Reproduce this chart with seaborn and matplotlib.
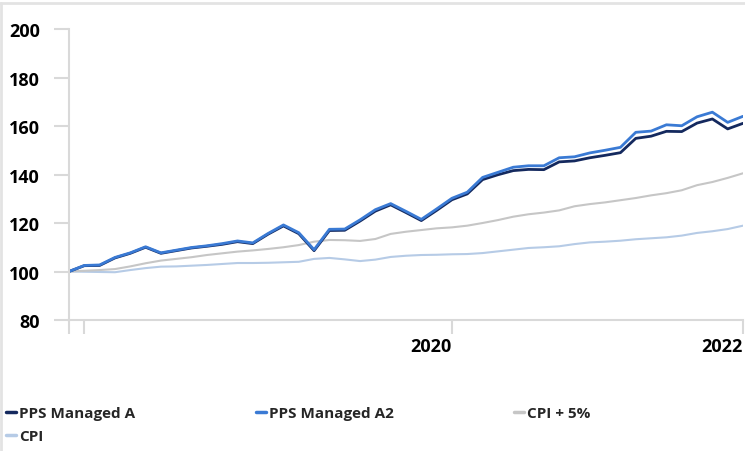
import numpy as np
import pandas as pd
import matplotlib.pyplot as plt
import matplotlib.lines as mlines
import seaborn as sns

# Wartości indeksu (start = 100)
pps_a = [100.0, 102.4, 102.5, 105.6, 107.5, 110.0, 107.5, 108.6, 109.7, 110.4,
         111.2, 112.3, 111.5, 115.4, 118.8, 115.6, 108.6, 116.9, 117.0, 120.8,
         124.9, 127.5, 124.3, 121.0, 125.2, 129.6, 132.0, 137.9, 139.9, 141.6,
         142.1, 142.0, 145.2, 145.6, 146.9, 147.9, 149.0, 154.9, 155.8, 157.8,
         157.7, 161.2, 162.9, 158.8, 161.1]
pps_a2 = [100.0, 102.5, 102.7, 105.8, 107.7, 110.2, 107.7, 108.8, 109.9, 110.6,
          111.5, 112.6, 111.8, 115.7, 119.2, 116.0, 109.0, 117.4, 117.5, 121.3,
          125.5, 128.0, 124.8, 121.5, 125.8, 130.2, 132.7, 138.8, 140.9, 143.0,
          143.6, 143.6, 146.9, 147.3, 148.9, 150.0, 151.2, 157.4, 157.9, 160.5,
          160.1, 163.8, 165.7, 161.5, 164.0]
cpi_5 = [100.0, 100.3, 100.6, 101.0, 102.1, 103.4, 104.5, 105.2, 105.9, 106.8,
         107.5, 108.2, 108.7, 109.3, 110.0, 110.9, 112.3, 113.0, 112.9, 112.6,
         113.4, 115.5, 116.4, 117.1, 117.8, 118.2, 118.9, 120.0, 121.2, 122.6,
         123.6, 124.3, 125.2, 126.9, 127.8, 128.5, 129.4, 130.3, 131.4, 132.3,
         133.5, 135.6, 136.9, 138.6, 140.5]
cpi = [100.0, 99.9, 99.8, 99.7, 100.6, 101.4, 102.0, 102.1, 102.4, 102.7,
       103.1, 103.5, 103.5, 103.6, 103.8, 104.0, 105.2, 105.6, 105.0, 104.3,
       104.9, 106.0, 106.5, 106.8, 106.9, 107.1, 107.2, 107.6, 108.3, 109.0,
       109.7, 110.0, 110.4, 111.3, 112.0, 112.3, 112.7, 113.3, 113.7, 114.1,
       114.8, 115.9, 116.6, 117.5, 118.9]

series_names = ["PPS Managed A", "PPS Managed A2", "CPI + 5%", "CPI"]
tick_positions = [0, 1, 25, 44]
tick_labels = ["", "", "2020", "2022"]

colors = {"PPS Managed A": "#14295e", "PPS Managed A2": "#3a7ad4",
          "CPI + 5%": "#c6c6c6", "CPI": "#b6cbe6"}
widths = {"PPS Managed A": 2.0, "PPS Managed A2": 2.0, "CPI + 5%": 1.5, "CPI": 1.5}

df = pd.DataFrame({"PPS Managed A": pps_a, "PPS Managed A2": pps_a2,
                   "CPI + 5%": cpi_5, "CPI": cpi})
df["okres"] = np.arange(len(df))

sns.set_style("white")
plt.rcParams['font.family'] = ['Open Sans', 'DejaVu Sans']
plt.rcParams['font.weight'] = 'bold'

fig = plt.figure(figsize=(7.45, 4.52), dpi=100)
ax = fig.add_axes([69 / 745, 1 - 321 / 452, 674 / 745, 291 / 452])

# Kolejność rysowania: szare linie pod niebieskimi
for name in ["CPI", "CPI + 5%", "PPS Managed A", "PPS Managed A2"]:
    sns.lineplot(x="okres", y=name, data=df, ax=ax, color=colors[name],
                 linewidth=widths[name], label=name, legend=False)

ax.set_xlim(0, 44)
ax.set_ylim(80, 200)
ax.set_yticks(range(80, 201, 20))
ax.set_xticks(tick_positions, tick_labels)
for lbl in ax.get_xticklabels():
    lbl.set_horizontalalignment('right')
ax.set_xlabel("")
ax.set_ylabel("")

grid_c = "#d9d9d9"
for side in ["top", "right"]:
    ax.spines[side].set_visible(False)
for side in ["left", "bottom"]:
    ax.spines[side].set_color(grid_c)
    ax.spines[side].set_linewidth(1.5)
ax.tick_params(axis='y', left=True, length=11, width=1.5, color=grid_c, pad=10,
               labelsize=13, labelcolor='black')
ax.tick_params(axis='x', bottom=True, length=10, width=1.5, color=grid_c, pad=2,
               labelsize=13, labelcolor='black')
ax.set_facecolor('white')

# Legenda pod wykresem - kolejność wierszami (matplotlib wypełnia kolumnami)
legend_order = ["PPS Managed A", "CPI", "PPS Managed A2", "CPI + 5%"]
handles = [mlines.Line2D([], [], color=colors[n], linewidth=2.5) for n in legend_order]
fig.legend(handles, legend_order, loc='upper left', bbox_to_anchor=(0.0, 0.112),
           ncol=3, frameon=False, fontsize=11, handlelength=0.65,
           handletextpad=0.2, columnspacing=7.9, labelspacing=0.55,
           borderaxespad=0.0)

# Cienka ramka wokół obrazka
fig.add_artist(mlines.Line2D([0, 1], [1 - 3.5 / 452] * 2, color="#e3e3e3", linewidth=2))
fig.add_artist(mlines.Line2D([1 / 745] * 2, [0, 1 - 3.5 / 452], color="#e3e3e3", linewidth=2))

plt.savefig("out.png", dpi=100)
